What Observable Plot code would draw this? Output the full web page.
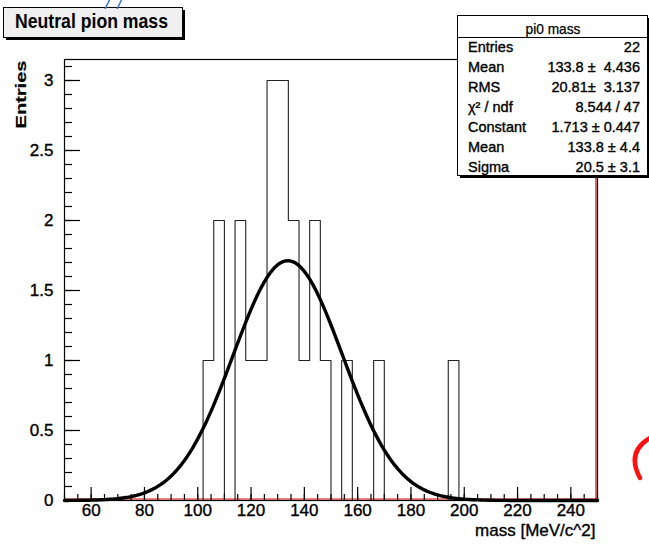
<!DOCTYPE html>
<html><head><meta charset="utf-8">
<script src="https://cdn.jsdelivr.net/npm/d3@7"></script>
<script src="https://cdn.jsdelivr.net/npm/@observablehq/plot@0.6"></script>
<style>
html,body{margin:0;padding:0;background:#fff;}
#chart{position:relative;width:649px;height:545px;overflow:hidden;font-family:"Liberation Sans",Arial,sans-serif;}
#chart svg{position:absolute;left:0;top:0;}
</style></head><body><div id="chart"></div>
<script>
// ---- data ----
const histTitle = "Neutral pion mass";
const statsTitle = "pi0 mass";
const xLabel = "mass [MeV/c^2]";
const yLabel = "Entries";
const xMin = 50, xMax = 250, nBins = 50;
const counts = [0,0,0,0,0,0,0,0,0,0, 0,0,0,1,2,0,2,1,1,3, 3,2,1,2,1,0,1,0,0,1, 0,0,0,0,0,0,1,0,0,0, 0,0,0,0,0,0,0,0,0,0];
const fitConstant = 1.713, fitMean = 133.8, fitSigma = 20.5;
const xTicks = [60,80,100,120,140,160,180,200,220,240];
const yTicks = [0,0.5,1,1.5,2,2.5,3];
const yTickLabels = ["0","0.5","1","1.5","2","2.5","3"];
const statLabels = ["Entries","Mean","RMS","χ² / ndf","Constant","Mean","Sigma"];
const statValues = ["22","133.8 ±  4.436","20.81±  3.137","8.544 / 47","1.713 ± 0.447","133.8 ± 4.4","20.5 ± 3.1"];

// ---- derived tables ----
const binW = (xMax - xMin) / nBins;
const stepData = counts.map((c, i) => ({x: xMin + i * binW, y: c}))
  .concat([{x: xMax, y: counts[counts.length - 1]}]);
const gaus = x => fitConstant * Math.exp(-0.5 * ((x - fitMean) / fitSigma) ** 2);
const fitData = d3.range(0, 201).map(i => { const x = xMin + i * (xMax - xMin) / 200; return {x, y: gaus(x)}; });
const xMinor = d3.range(xMin, xMax + 0.001, 5);
const yMinor = d3.range(0, 3.15, 0.1);

const plot = Plot.plot({
  width: 649, height: 545,
  marginLeft: 64, marginRight: 52, marginTop: 59, marginBottom: 45,
  style: {fontFamily: "'Liberation Sans', Arial, sans-serif", fontSize: "17px", background: "transparent", color: "#000"},
  x: {domain: [xMin, xMax], label: null},
  y: {domain: [0, 3.15], label: null},
  marks: [
    Plot.ruleY([0], {stroke: "#e00000", strokeWidth: 1.2, dy: -1.5}),
    Plot.ruleX([xMax], {stroke: "#e00000", strokeWidth: 1.2, dx: -1.5}),
    Plot.line(stepData, {x: "x", y: "y", curve: "step-after", stroke: "#222", strokeWidth: 1.1}),
    Plot.line(fitData, {x: "x", y: "y", stroke: "#000", strokeWidth: 3.4}),
    Plot.frame({stroke: "#000", strokeWidth: 1.2}),
    Plot.axisX({ticks: xMinor, tickSize: -6, tickFormat: () => "", label: null, strokeWidth: 1.2}),
    Plot.axisX({ticks: xTicks, tickSize: -13, tickPadding: 16, tickFormat: d => String(d), label: null, strokeWidth: 1.2}),
    Plot.axisY({ticks: yMinor, tickSize: -8, tickFormat: () => "", label: null, strokeWidth: 1.2}),
    Plot.axisY({ticks: yTicks, tickSize: -16, tickPadding: 27, tickFormat: d => yTickLabels[yTicks.indexOf(d)], label: null, strokeWidth: 1.2}),
    Plot.text([xLabel], {frameAnchor: "bottom-right", textAnchor: "end", lineAnchor: "bottom", dx: -2, dy: 35, fontSize: 17}),
    Plot.text([yLabel], {frameAnchor: "top-left", rotate: -90, textAnchor: "middle", dx: -49, dy: 35, fontSize: 15, fontWeight: "bold"})
  ]
});
document.getElementById("chart").appendChild(plot);
// slightly heavier glyphs like the ROOT rendering
d3.select(plot).selectAll("text").attr("stroke", "#000").attr("stroke-width", 0.35);
d3.select(plot).selectAll("text").filter(function() { return this.textContent === yLabel; })
  .attr("textLength", 68).attr("lengthAdjust", "spacingAndGlyphs").attr("stroke-width", 0.2);

// ---- title box and statistics box (overlay) ----
const ov = d3.select("#chart").append("svg")
  .attr("width", 649).attr("height", 545)
  .style("pointer-events", "none")
  .style("font-family", "'Liberation Sans', Arial, sans-serif");

// title pave
ov.append("rect").attr("x", 6).attr("y", 10).attr("width", 179).attr("height", 30).attr("fill", "#000");
ov.append("rect").attr("x", 3.5).attr("y", 7.5).attr("width", 179).attr("height", 30).attr("fill", "#f0f0f0").attr("stroke", "#000");
ov.append("text").attr("x", 15).attr("y", 28).attr("font-size", 19.5).attr("font-weight", "bold")
  .attr("textLength", 153).attr("lengthAdjust", "spacingAndGlyphs").text(histTitle);

// stats pave
ov.append("rect").attr("x", 460).attr("y", 18).attr("width", 191).attr("height", 160).attr("fill", "#000");
ov.append("rect").attr("x", 457.5).attr("y", 15.5).attr("width", 190).attr("height", 160).attr("fill", "#fff").attr("stroke", "#000");
ov.append("line").attr("x1", 457.5).attr("x2", 647.5).attr("y1", 37.5).attr("y2", 37.5).attr("stroke", "#000");
ov.append("text").attr("x", 553).attr("y", 34).attr("text-anchor", "middle").attr("font-size", 15)
  .attr("stroke", "#000").attr("stroke-width", 0.25)
  .attr("textLength", 55).attr("lengthAdjust", "spacingAndGlyphs").text(statsTitle);
statLabels.forEach((lab, i) => {
  const y = 51.5 + 20 * i;
  ov.append("text").attr("x", 468).attr("y", y).attr("font-size", 14.5)
    .attr("stroke", "#000").attr("stroke-width", 0.35).text(lab);
  ov.append("text").attr("x", 640).attr("y", y).attr("font-size", 14.5).attr("text-anchor", "end")
    .attr("stroke", "#000").attr("stroke-width", 0.35)
    .attr("xml:space", "preserve").style("white-space", "pre").text(statValues[i]);
});

// stray annotation strokes visible in the reference
ov.append("path").attr("d", "M105,9 L109.5,0 M117,9 L121.5,0").attr("stroke", "#3a6fd8").attr("stroke-width", 1.5).attr("fill", "none");
ov.append("path").attr("d", "M650,438 Q626,452 640,478").attr("stroke", "#ff1010").attr("stroke-width", 4.5).attr("fill", "none").attr("stroke-linecap", "round");
</script>
</body></html>
